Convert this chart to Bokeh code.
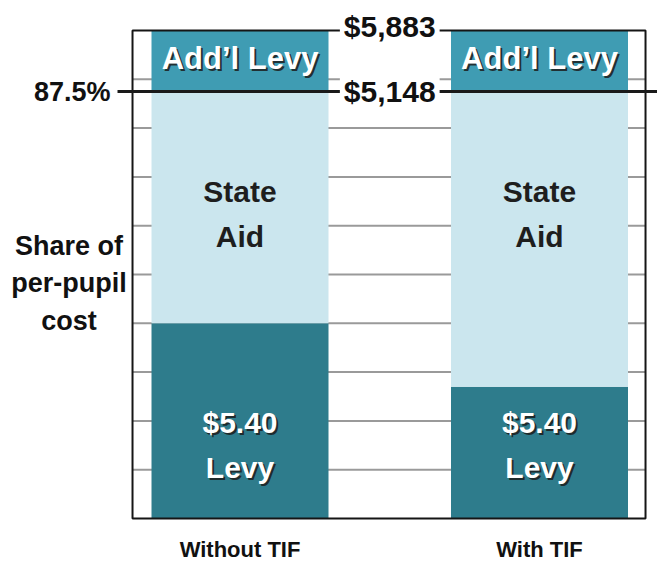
from bokeh.plotting import figure
from bokeh.models import Range1d, ColumnDataSource, Label
from bokeh.core.properties import value
from bokeh.embed import file_html
from bokeh.resources import INLINE

# ---- data ----
categories = ["Without TIF", "With TIF"]
levy = [40.0, 27.0]          # $5.40 Levy share (%)
state_aid = [47.5, 60.5]     # State Aid share (%)
addl_levy = [12.5, 12.5]     # Add'l Levy share (%)
segment_names = ["levy", "state_aid", "addl_levy"]
segment_colors = ["#2e7c8c", "#cbe6ee", "#3f9cb3"]

grid_ticks = [10, 20, 30, 40, 50, 60, 70, 80, 90]
threshold_pct = 87.5
threshold_label = "87.5%"
dollar_levels = [100.0, 87.5]
dollar_labels = ["$5,883", "$5,148"]

side_label_lines = ["Share of", "per-pupil", "cost"]

# ---- layout constants ----
FONT = "Liberation Sans"
X_START, X_END = 0.2003, 2.3940
Y_START, Y_END = -9.221, 106.148
BOX_X0, BOX_X1 = 0.6411, 2.354
BAR_W = 0.591
LINE_X0 = 0.591
PCT_LABEL_X = 0.5676
SIDE_X = 0.429
SIDE_Y = [55.9, 48.2, 40.4]
CAT_Y = -6.4

xs = [i + 1 for i in range(len(categories))]
src = ColumnDataSource(dict(x=xs, cat=categories, levy=levy,
                            state_aid=state_aid, addl_levy=addl_levy))

p = figure(width=657, height=563, output_backend="svg", toolbar_location=None,
           title=None, x_range=Range1d(X_START, X_END),
           y_range=Range1d(Y_START, Y_END),
           x_axis_location=None, y_axis_location=None, min_border=0)
p.background_fill_color = "white"
p.border_fill_color = "white"
p.outline_line_color = None
p.grid.visible = False

# grid lines inside the chart box
n_g = len(grid_ticks)
p.segment(x0=[BOX_X0] * n_g, x1=[BOX_X1] * n_g, y0=grid_ticks, y1=grid_ticks,
          line_color="#9a9a9a", line_width=2)

# stacked bars
p.vbar_stack(segment_names, x="x", width=BAR_W, color=segment_colors,
             line_color=None, source=src)

# labels inside the bars
def bar_text(text, y, color, size, shadow):
    n = len(xs)
    s = ColumnDataSource(dict(x=xs, y=[y] * n, t=[text] * n))
    if shadow:
        p.text(x="x", y="y", text="t", source=s, x_offset=2, y_offset=2,
               text_font=value(FONT), text_font_style="bold", text_font_size=size,
               text_align="center", text_baseline="middle",
               text_color="#1c1c1c", text_alpha=0.85)
    p.text(x="x", y="y", text="t", source=s,
           text_font=value(FONT), text_font_style="bold", text_font_size=size,
           text_align="center", text_baseline="middle", text_color=color)

bar_text("Add’l Levy", 94.2, "white", "31px", True)
bar_text("State", 67.1, "#1e1e1e", "30px", False)
bar_text("Aid", 57.8, "#1e1e1e", "30px", False)
bar_text("$5.40", 19.6, "white", "30px", True)
bar_text("Levy", 10.5, "white", "30px", True)

# chart box
p.quad(left=[BOX_X0], right=[BOX_X1], bottom=[0], top=[100],
       fill_color=None, line_color="#151515", line_width=2)

# thick 87.5% line across
p.segment(x0=[LINE_X0], x1=[X_END], y0=[threshold_pct], y1=[threshold_pct],
          line_color="#1a1a1a", line_width=3)
p.text(x=[PCT_LABEL_X], y=[threshold_pct], text=[threshold_label],
       text_font=value(FONT), text_font_style="bold", text_font_size="27px",
       text_color="#111111", text_align="right", text_baseline="middle")

# dollar labels in the middle
for lvl, txt in zip(dollar_levels, dollar_labels):
    p.add_layout(Label(x=(xs[0] + xs[1]) / 2, y=lvl, text=txt,
                       y_offset=4 if lvl == max(dollar_levels) else 0,
                       text_font=FONT, text_font_style="bold",
                       text_font_size="30px", text_color="#111111",
                       text_align="center", text_baseline="middle",
                       background_fill_color="white", padding=4))

# category labels below
p.text(x=xs, y=[CAT_Y] * len(xs), text=categories,
       text_font=value(FONT), text_font_style="bold", text_font_size="22px",
       text_color="#111111", text_align="center", text_baseline="middle")

# side label
p.text(x=[SIDE_X] * len(side_label_lines), y=SIDE_Y, text=side_label_lines,
       text_font=value(FONT), text_font_style="bold", text_font_size="27px",
       text_color="#111111", text_align="center", text_baseline="middle")

open("out.html", "w").write(file_html(p, INLINE))
